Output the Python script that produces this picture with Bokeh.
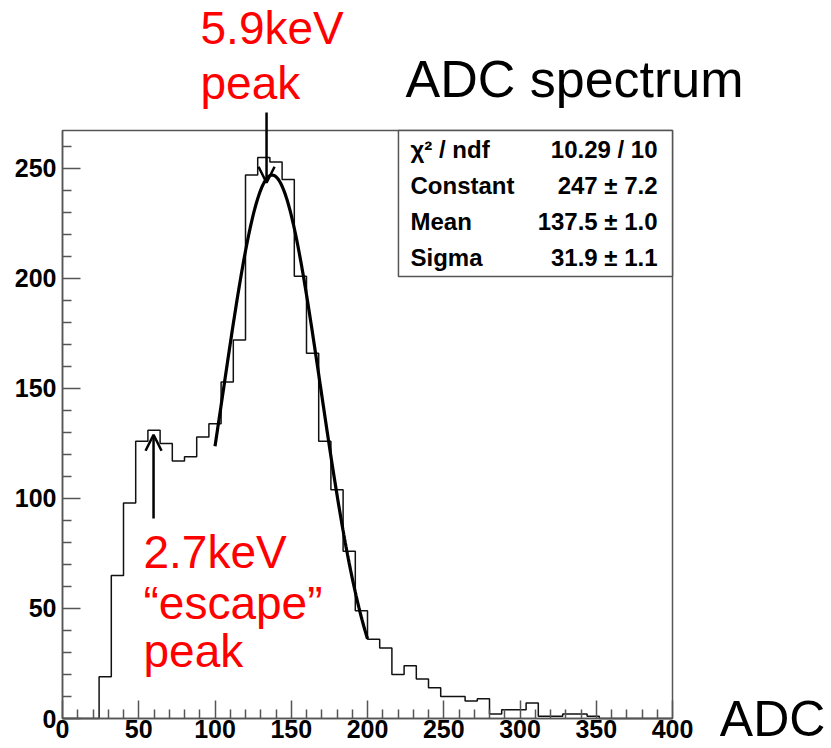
import numpy as np
from bokeh.plotting import figure
from bokeh.models import Range1d, FixedTicker, Label, Arrow, OpenHead, BoxAnnotation
from bokeh.embed import file_html
from bokeh.resources import INLINE

# ---- data ----
bin_start = 0
bin_width = 8
counts = [0, 0, 0, 19, 65, 98, 126, 131, 125, 117,
          119, 128, 134, 153, 172, 247, 255, 253, 245, 201,
          166, 126, 104, 76, 49, 36, 32, 20, 24, 18,
          14, 10, 10, 8, 9, 2, 4, 4, 7, 1,
          1, 2, 2, 1, 0, 0, 0, 0, 0, 0]
fit_constant = 247
fit_mean = 137.5
fit_sigma = 31.9
fit_range = [100, 200]
stat_names = ["\u03c7\u00b2 / ndf", "Constant", "Mean", "Sigma"]
stat_values = ["10.29 / 10", "247 \u00b1 7.2", "137.5 \u00b1 1.0", "31.9 \u00b1 1.1"]
x_ticks = [0, 50, 100, 150, 200, 250, 300, 350, 400]
x_minor = [v for v in range(10, 400, 10) if v % 50]
y_ticks = [0, 50, 100, 150, 200, 250]
y_minor = [v for v in range(10, 270, 10) if v % 50]
x_max = 400
y_max = 267.3

FONT = "Liberation Sans"
AX = "#555555"

p = figure(width=831, height=748, x_range=Range1d(-40.656, 504.26), y_range=Range1d(-13.636, 326.36),
           output_backend="svg", toolbar_location=None,
           min_border_left=0, min_border_right=0, min_border_top=0, min_border_bottom=0)
p.grid.visible = False
p.outline_line_color = None
p.background_fill_color = "white"
p.border_fill_color = "white"

p.xaxis.ticker = FixedTicker(ticks=x_ticks, minor_ticks=x_minor)
p.yaxis.ticker = FixedTicker(ticks=y_ticks, minor_ticks=y_minor)
for ax in (p.xaxis, p.yaxis):
    ax.fixed_location = 0
    ax.axis_line_color = AX
    ax.axis_line_width = 1.5
    ax.major_tick_line_color = AX
    ax.minor_tick_line_color = AX
    ax.major_tick_line_width = 1.5
    ax.minor_tick_line_width = 1.5
    ax.major_tick_in = 18
    ax.major_tick_out = 0
    ax.minor_tick_in = 9
    ax.minor_tick_out = 0
    ax.major_label_text_font = FONT
    ax.major_label_text_font_style = "bold"
    ax.major_label_text_font_size = "25px"
    ax.major_label_text_color = "black"
p.xaxis.bounds = (0, x_max)
p.yaxis.bounds = (0, y_max)
p.xaxis.major_label_standoff = 1
p.yaxis.major_label_standoff = 6

# ROOT frame
p.add_layout(BoxAnnotation(left=0, right=x_max, bottom=0, top=y_max,
                           fill_alpha=0.0, line_color=AX, line_width=1.5, line_alpha=1.0))

# histogram outline
edges = [bin_start + i * bin_width for i in range(len(counts) + 1)]
p.step(x=edges, y=counts + [0], mode="after", line_color="#111111", line_width=1.5)

# gaussian fit from stat-box parameters
fx = np.linspace(fit_range[0], fit_range[1], 200)
fy = fit_constant * np.exp(-0.5 * ((fx - fit_mean) / fit_sigma) ** 2)
p.line(fx, fy, line_color="black", line_width=3.2)

# stat box
p.add_layout(BoxAnnotation(left=220.3, right=x_max, bottom=200.9, top=y_max,
                           fill_color="white", fill_alpha=1.0,
                           line_color=AX, line_width=1.5, line_alpha=1.0))
row_y = [258.6, 242.3, 225.9, 209.5]
for name, val, yy in zip(stat_names, stat_values, row_y):
    p.add_layout(Label(x=228.2, y=yy, text=name, text_font=FONT, text_font_style="bold",
                       text_color="black",
                       text_font_size="24px", text_baseline="alphabetic", text_align="left"))
    p.add_layout(Label(x=390.2, y=yy, text=val, text_font=FONT, text_font_style="bold",
                       text_color="black",
                       text_font_size="24px", text_baseline="alphabetic", text_align="right"))

# annotations
def lab(x, y, t, color, size):
    p.add_layout(Label(x=x, y=y, text=t, text_font=FONT, text_color=color,
                       text_font_size=size, text_baseline="alphabetic", text_align="left"))

lab(90.5, 313.8, "5.9keV", "red", "46px")
lab(90.5, 288.8, "peak", "red", "46px")
lab(224.9, 290.5, "ADC spectrum", "black", "52px")
lab(53.1, 75.9, "2.7keV", "red", "46px")
lab(53.1, 52.4, "\u201cescape\u201d", "red", "46px")
lab(53.1, 30.5, "peak", "red", "46px")
lab(431.0, -0.45, "ADC", "black", "50px")

p.add_layout(Arrow(x_start=133.8, y_start=275.5, x_end=133.8, y_end=243.5,
                   line_width=2.5, line_color="black",
                   end=OpenHead(size=16, line_width=2.5, line_color="black")))
p.add_layout(Arrow(x_start=59.7, y_start=90.9, x_end=59.7, y_end=129.0,
                   line_width=2.5, line_color="black",
                   end=OpenHead(size=16, line_width=2.5, line_color="black")))

open("out.html", "w").write(file_html(p, INLINE))
